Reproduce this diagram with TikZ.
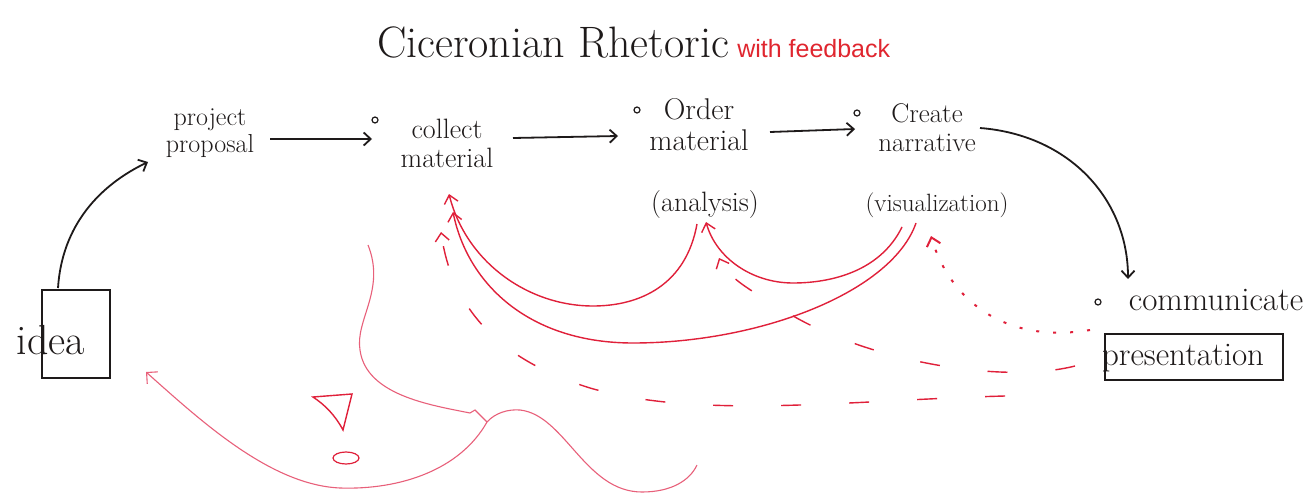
\documentclass[tikz,border=0pt]{standalone}
\usepackage{fontspec}
\newfontfamily\sansfb{Liberation Sans}
\usetikzlibrary{arrows.meta}
\definecolor{ink}{HTML}{1E1A1A}
\definecolor{marker}{HTML}{E0203A}
\definecolor{pinkline}{HTML}{E8607A}
\definecolor{fbred}{HTML}{E0262F}
\begin{document}
\begin{tikzpicture}[x=1pt,y=-1pt,
  hand/.style={font=\fontsize{26}{28}\selectfont, align=center, inner sep=0pt, text=ink},
  blk/.style={draw=ink, line width=1.8pt, -{Straight Barb[length=7pt,width=13pt]}},
  fbk/.style={draw=marker, line width=1.4pt, -{Straight Barb[length=8pt,width=14pt]}},
  fbdash/.style={fbk, dash pattern=on 20pt off 48pt},
  fbdot/.style={fbk, dash pattern=on 3pt off 14pt, line width=2pt},
  bullet/.style={circle, draw=ink, line width=1.2pt, minimum size=6pt, inner sep=0pt},
  sketch/.style={draw=pinkline, line width=1.1pt},
  boxed/.style={draw=ink, line width=1.8pt, inner sep=0pt}
]
\useasboundingbox[fill=white] (0,0) rectangle (1314,495);

% title
\node[font=\fontsize{44}{48}\selectfont, text=ink, anchor=base, inner sep=0pt] (title) at (553,58) {Ciceronian Rhetoric};
\node[font=\sansfb\fontsize{25}{27}\selectfont, text=fbred, anchor=base west, inner sep=0pt] (fb) at ([xshift=8pt]title.base east) {with feedback};

% main steps
\node[hand, font=\fontsize{26}{27}\selectfont] (proposal) at (210,133) {project\\proposal};
\node[hand, font=\fontsize{28}{29}\selectfont] (collect) at (447,143) {collect\\material};
\node[hand, font=\fontsize{30}{31}\selectfont] (order) at (699,125) {Order\\material};
\node[hand, font=\fontsize{27}{29}\selectfont] (create) at (927,128) {Create\\narrative};
\node[hand, font=\fontsize{28}{30}\selectfont] (analysis) at (705,205) {(analysis)};
\node[hand, font=\fontsize{25}{27}\selectfont] (visual) at (937,205) {(visualization)};
\node[hand, font=\fontsize{33}{35}\selectfont] (comm) at (1216,300) {communicate};
\node[hand, font=\fontsize{33}{35}\selectfont] (pres) at (1183,358) {presentation};
\node[boxed, minimum width=178pt, minimum height=46pt] (presbox) at (1194,357) {};
\node[hand, font=\fontsize{42}{46}\selectfont] (idea) at (51,340) {idea};
\node[boxed, minimum width=68pt, minimum height=88pt] (ideabox) at (76,334) {};

% bullets
\node[bullet] (b1) at (375,120) {};
\node[bullet] (b2) at (637,110) {};
\node[bullet] (b3) at (857,113) {};
\node[bullet] (b4) at (1098,302) {};

% connector end points
\coordinate (idea-out) at (58,288);
\coordinate (prop-in) at (148,162);
\coordinate (prop-out) at (270,139);
\coordinate (coll-in) at (372,139);
\coordinate (coll-out) at (513,138);
\coordinate (ord-in) at (618,136);
\coordinate (ord-out) at (770,132);
\coordinate (cre-in) at (855,129);
\coordinate (cre-out) at (980,128);
\coordinate (comm-in) at (1128,279);

% black flow
\draw[blk] (idea-out) .. controls (62,225) and (100,185) .. (prop-in);
\draw[blk] (prop-out) -- (coll-in);
\draw[blk] (coll-out) -- (ord-in);
\draw[blk] (ord-out) -- (cre-in);
\draw[blk] (cre-out) .. controls (1070,135) and (1128,200) .. (comm-in);

% feedback end points
\coordinate (ana-out) at (697,224);
\coordinate (vis-out1) at (902,227);
\coordinate (vis-out2) at (916,223);
\coordinate (coll-fb1) at (449,194);
\coordinate (coll-fb2) at (453,212);
\coordinate (coll-fb3) at (441,232);
\coordinate (ana-fb) at (706,222);
\coordinate (ana-fb2) at (719,258);
\coordinate (vis-fb) at (931,236);
\coordinate (comm-fb) at (1090,330);
\coordinate (pres-fb1) at (1075,366);
\coordinate (pres-fb2) at (1005,396);

% red feedback arcs
\draw[fbk] (ana-out) .. controls (686,285) and (640,306) .. (593,306)
  .. controls (528,306) and (466,262) .. (coll-fb1);
\draw[fbk] (vis-out1) .. controls (880,272) and (830,283) .. (793,283)
  .. controls (752,283) and (716,258) .. (ana-fb);
\draw[fbk] (vis-out2) .. controls (892,292) and (760,343) .. (633,343)
  .. controls (530,343) and (468,285) .. (coll-fb2);
\draw[fbdash] (pres-fb1) .. controls (1000,385) and (860,360) .. (780,308)
  .. controls (750,290) and (728,278) .. (ana-fb2);
\draw[fbdash] (pres-fb2) .. controls (850,400) and (700,420) .. (590,388)
  .. controls (500,360) and (452,310) .. (coll-fb3);
\draw[fbdot] (comm-fb) .. controls (1000,345) and (948,295) .. (vis-fb);

% lower-left sketch
\coordinate (w0) at (368,245);
\coordinate (wk) at (487,422);
\coordinate (wend) at (697,465);
\coordinate (idea-fb) at (146,372);
\draw[sketch] (w0) .. controls (386,290) and (355,320) .. (360,350)
  .. controls (366,395) and (430,405) .. (470,413) -- (475,410) -- (wk);
\draw[sketch] (wk) .. controls (495,413) and (508,409) .. (520,410)
  .. controls (565,415) and (585,492) .. (642,492) .. controls (672,492) and (690,480) .. (wend);
\draw[sketch, -{Straight Barb[length=8pt,width=16pt]}] (wk) .. controls (460,470) and (400,490) .. (340,488)
  .. controls (270,485) and (200,420) .. (idea-fb);
\draw[sketch, line width=1.4pt, draw=marker] (313,397) -- (352,394) -- (343,430) .. controls (335,415) and (325,405) .. cycle;
\draw[sketch, line width=1.2pt, draw=marker] (346,458) ellipse [x radius=13, y radius=6];
\end{tikzpicture}
\end{document}
